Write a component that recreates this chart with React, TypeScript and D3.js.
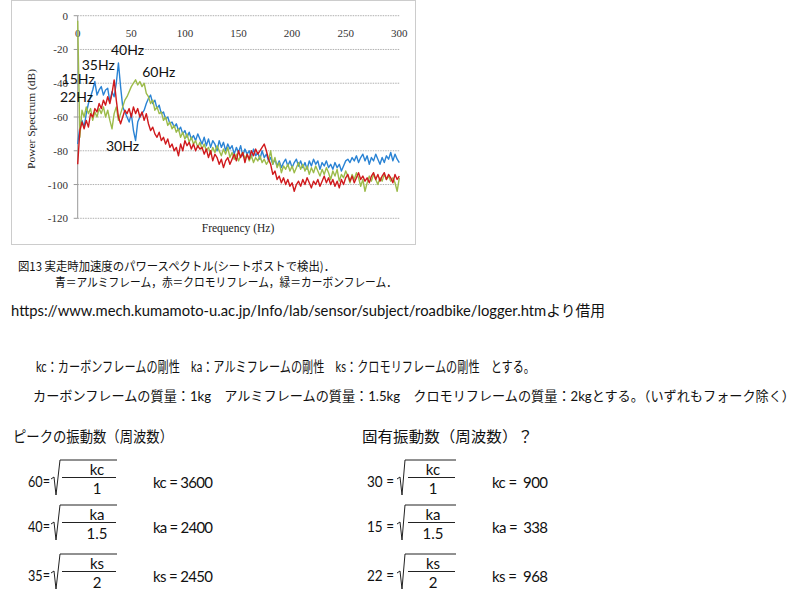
import React from 'react';
import * as d3 from 'd3';

// frequency grid of the spectra (Hz), one reading every 2 Hz
const FREQ_STEP = 2;

// blue = aluminium frame
const aluminium = [
  -76, -66, -62, -66, -58, -52, -48, -44, -39, -47, -44, -42, -47, -44, -43, -51, -45, -48, -40, -28,
  -42, -54, -57, -60, -63, -58, -68, -74, -63, -60, -58, -56, -52, -49, -47, -52, -50, -55, -53, -58,
  -57, -61, -60, -64, -63, -66, -64, -68, -66, -70, -68, -72, -69, -73, -71, -74, -70, -73, -76, -72,
  -77, -73, -78, -74, -76, -80, -74, -78, -75, -80, -76, -79, -77, -82, -78, -81, -77, -83, -79, -82,
  -80, -84, -79, -83, -81, -85, -80, -84, -82, -86, -84, -88, -85, -89, -86, -90, -87, -85, -89, -86,
  -90, -87, -85, -89, -86, -90, -87, -91, -86, -89, -85, -88, -86, -91, -87, -89, -86, -90, -88, -91,
  -87, -90, -88, -92, -89, -86, -85, -87, -84, -86, -83, -87, -84, -82, -86, -83, -88, -84, -86, -82,
  -85, -88, -84, -87, -83, -85, -81, -86, -82, -85, -87,
];

// red = chromoly frame
const chromoly = [
  -88, -68, -63, -67, -62, -66, -58, -60, -55, -57, -52, -55, -50, -53, -48, -52, -46, -38, -50, -60,
  -64, -60, -56, -58, -55, -60, -54, -58, -55, -60, -57, -62, -58, -64, -68, -66, -70, -72, -69, -74,
  -72, -76, -73, -78, -76, -80, -78, -83, -76, -80, -74, -77, -75, -79, -76, -80, -77, -79, -78, -82,
  -79, -84, -80, -86, -82, -84, -88, -85, -90, -86, -84, -88, -85, -82, -86, -80, -84, -81, -87, -82,
  -85, -80, -83, -79, -82, -80, -78, -76, -80, -85, -88, -94, -92, -97, -95, -99, -96, -100, -97, -101,
  -99, -104, -100, -98, -101, -97, -100, -96, -99, -102, -98, -100, -97, -101, -98, -95, -99, -96, -100, -97,
  -101, -98, -102, -97, -100, -96, -94, -98, -95, -99, -96, -93, -97, -95, -98, -96, -99, -95, -93, -97,
  -94, -98, -95, -93, -97, -94, -96, -99, -94, -97, -95,
];

// green = carbon frame
const carbon = [
  -3, -72, -56, -60, -54, -58, -55, -62, -57, -60, -55, -58, -54, -60, -56, -62, -67, -58, -54, -62,
  -58, -54, -50, -48, -45, -42, -40, -38, -41, -39, -42, -40, -46, -48, -52, -50, -56, -54, -58, -57,
  -62, -60, -65, -63, -67, -65, -69, -67, -72, -69, -73, -70, -75, -72, -76, -74, -78, -75, -79, -76,
  -80, -78, -82, -78, -81, -77, -80, -83, -79, -82, -78, -84, -81, -85, -82, -86, -83, -81, -85, -82,
  -86, -83, -87, -84, -86, -83, -87, -85, -88, -86, -80, -88, -84, -90, -87, -93, -89, -91, -88, -92,
  -89, -93, -90, -87, -91, -88, -92, -89, -94, -90, -93, -89, -92, -95, -91, -94, -90, -93, -97, -92,
  -95, -91, -98, -94, -96, -92, -95, -99, -94, -97, -93, -96, -101, -97, -104, -99, -95, -98, -94, -97,
  -100, -96, -98, -94, -97, -95, -98, -96, -99, -104, -96,
];

const xTicks = [0, 50, 100, 150, 200, 250, 300];
const yTicks = [0, -20, -40, -60, -80, -100, -120];

// peak labels, anchored in data units (Hz, dB)
const peakLabels = [
  { text: '40Hz', hz: 31, db: -23.3 },
  { text: '35Hz', hz: 3.7, db: -32.2 },
  { text: '15Hz', hz: -15, db: -40.5 },
  { text: '60Hz', hz: 60.2, db: -36.3 },
  { text: '22Hz', hz: -16.5, db: -51 },
  { text: '30Hz', hz: 26.4, db: -80 },
];

const peakRows = [
  { f: '60', k: 'kc', m: '1', res: '3600' },
  { f: '40', k: 'ka', m: '1.5', res: '2400' },
  { f: '35', k: 'ks', m: '2', res: '2450' },
];
const naturalRows = [
  { f: '30', k: 'kc', m: '1', res: '900' },
  { f: '15', k: 'ka', m: '1.5', res: '338' },
  { f: '22', k: 'ks', m: '2', res: '968' },
];

const SERIF = "'Liberation Serif', 'DejaVu Serif', serif";
const SANS = "Lato, 'Noto Sans CJK JP', sans-serif";
const JP = "'Noto Sans CJK JP', sans-serif";

const x = d3.scaleLinear().domain([0, 300]).range([77.7, 399.3]);
const y = d3.scaleLinear().domain([-120, 0]).range([218.3, 15.7]);

const line = d3
  .line<number>()
  .x((_, i) => x(i * FREQ_STEP))
  .y((d) => y(d));

const series = [
  { name: 'aluminium', values: aluminium, color: '#2a83d4' },
  { name: 'carbon', values: carbon, color: '#9cbb4a' },
  { name: 'chromoly', values: chromoly, color: '#d0191c' },
];

function Equation({ row, base, natural }: any) {
  // layout of one  f = sqrt(k / m)  block
  const lay = natural
    ? { fx: 367, fw: 27, s0: 397, s1: 402, s2: 405, end: 456, fr0: 408, num: 433, res: 492, rw: 56 }
    : { fx: 28, fw: 22, s0: 51, s1: 56, s2: 60, end: 117, fr0: 62, num: 97, res: 153, rw: 60 };
  const top = base - 27;
  const rad = `M${lay.s0},${base - 8} L${lay.s0 + 3},${base - 10} L${lay.s1},${base + 8} L${lay.s2},${top} L${lay.end},${top}`;
  return (
    <g fontFamily={SANS} fontSize={15} fill="#111">
      <text x={lay.fx} y={base} fontSize={14.5} xmlSpace="preserve" textLength={lay.fw} lengthAdjust="spacingAndGlyphs">
        {row.f + (natural ? ' =' : '=')}
      </text>
      <path d={rad} fill="none" stroke="#222" strokeWidth={1} />
      <line x1={lay.fr0} x2={lay.end - 1} y1={base - 9.5} y2={base - 9.5} stroke="#222" strokeWidth={1} />
      <text x={lay.num} y={base - 12} textAnchor="middle">{row.k}</text>
      <text x={lay.num} y={base + 7} textAnchor="middle">{row.m}</text>
      <text x={lay.res} y={base + 1} xmlSpace="preserve" textLength={lay.rw} lengthAdjust="spacing">
        {row.k + (natural ? ' =  ' : ' = ') + row.res}
      </text>
    </g>
  );
}

export default function App() {
  const bases = [487, 532, 581];
  return (
    <div>
      <style>{'body{margin:0}'}</style>
      <svg width={800} height={600} style={{ display: 'block', background: '#fff' }}>
        {/* chart frame */}
        <rect x={11.5} y={0.5} width={404} height={244} fill="none" stroke="#999" strokeDasharray="1,1" />

        {/* grid */}
        {yTicks.map((t) => (
          <g key={t}>
            <line x1={x(0)} x2={x(300)} y1={y(t)} y2={y(t)} stroke="#b0b0b0" strokeDasharray="1.5,1" />
            <line x1={x(0) - 4} x2={x(0)} y1={y(t)} y2={y(t)} stroke="#999" />
            <text x={68} y={y(t) + 4} textAnchor="end" fontFamily={SERIF} fontSize={11} fill="#333">
              {t}
            </text>
          </g>
        ))}
        <line x1={x(0)} x2={x(0)} y1={y(0)} y2={y(-120)} stroke="#999" />
        {xTicks.map((t) => (
          <text key={t} x={x(t)} y={37} textAnchor="middle" fontFamily={SERIF} fontSize={11} fill="#333">
            {t}
          </text>
        ))}

        {/* spectra */}
        {series.map((s) => (
          <path key={s.name} d={line(s.values) || ''} fill="none" stroke={s.color} strokeWidth={1.4} strokeLinejoin="round" />
        ))}

        {peakLabels.map((p) => (
          <text key={p.text} x={x(p.hz)} y={y(p.db)} fontFamily={SANS} fontSize={14} fill="#111">
            {p.text}
          </text>
        ))}

        <text x={238} y={232} textAnchor="middle" fontFamily={SERIF} fontSize={11.5} fill="#222">
          Frequency (Hz)
        </text>
        <text
          transform="translate(35,119) rotate(-90)"
          textAnchor="middle"
          fontFamily={SERIF}
          fontSize={11}
          fill="#222"
          textLength={100}
          lengthAdjust="spacingAndGlyphs"
        >
          Power Spectrum (dB)
        </text>

        {/* caption */}
        <text x={18} y={271} fontFamily={JP} fontSize={12} fill="#111" textLength={317} lengthAdjust="spacingAndGlyphs">
          図13 実走時加速度のパワースペクトル(シートポストで検出)．
        </text>
        <text x={55} y={287} fontFamily={JP} fontSize={12} fill="#111" textLength={342} lengthAdjust="spacingAndGlyphs">
          青＝アルミフレーム，赤＝クロモリフレーム，緑＝カーボンフレーム．
        </text>
        <text x={11} y={316} fontFamily={SANS} fontSize={15} fill="#111" textLength={594} lengthAdjust="spacingAndGlyphs">
          https://www.mech.kumamoto-u.ac.jp/Info/lab/sensor/subject/roadbike/logger.htmより借用
        </text>

        <text x={36} y={372} fontFamily={SANS} fontSize={14.5} fill="#111" textLength={499} lengthAdjust="spacingAndGlyphs" xmlSpace="preserve">
          kc：カーボンフレームの剛性　ka：アルミフレームの剛性　ks：クロモリフレームの剛性　とする。
        </text>
        <text x={33} y={401} fontFamily={SANS} fontSize={13.2} fill="#111" textLength={762} lengthAdjust="spacingAndGlyphs" xmlSpace="preserve">
          カーボンフレームの質量：1kg　アルミフレームの質量：1.5kg　クロモリフレームの質量：2kgとする。（いずれもフォーク除く）
        </text>

        <text x={13} y={442} fontFamily={JP} fontSize={15} fill="#111" textLength={160} lengthAdjust="spacingAndGlyphs">
          ピークの振動数（周波数）
        </text>
        <text x={362} y={442} fontFamily={JP} fontSize={15} fill="#111" textLength={171} lengthAdjust="spacingAndGlyphs">
          固有振動数（周波数）？
        </text>

        {peakRows.map((r, i) => (
          <Equation key={'p' + i} row={r} base={bases[i]} />
        ))}
        {naturalRows.map((r, i) => (
          <Equation key={'n' + i} row={r} base={bases[i]} natural />
        ))}
      </svg>
    </div>
  );
}
